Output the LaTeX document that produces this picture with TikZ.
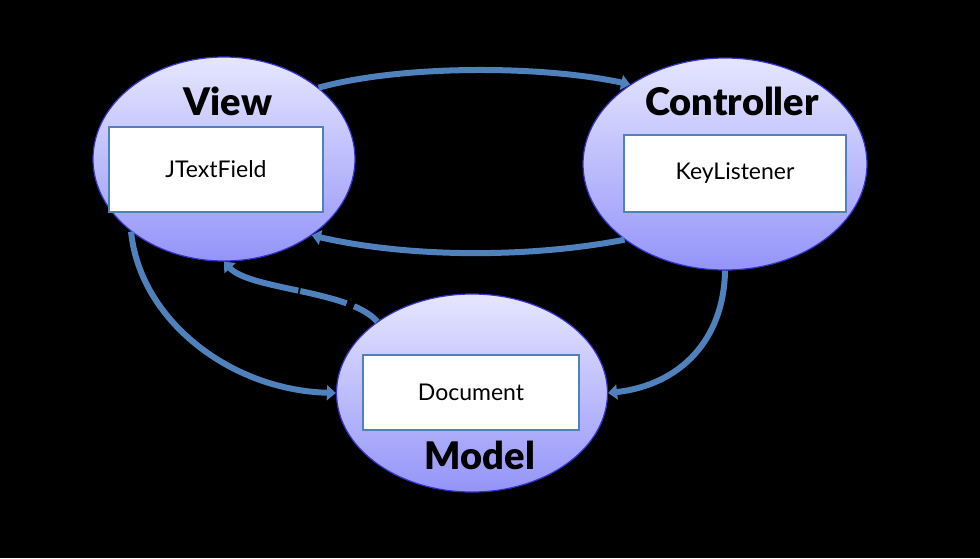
\documentclass[tikz,border=0pt]{standalone}
\usepackage{fontspec}
\setmainfont{Lato}[BoldFont={Lato Black}]
\usetikzlibrary{shapes.geometric,arrows.meta}
\definecolor{arrowblue}{RGB}{79,129,189}
\definecolor{ellline}{RGB}{50,50,205}
\definecolor{elltop}{RGB}{230,230,255}
\definecolor{ellbot}{RGB}{148,148,250}
\tikzset{
  mvc/.style={ellipse, draw=ellline, line width=1.2pt, top color=elltop, bottom color=ellbot, inner sep=0pt},
  innerbox/.style={rectangle, draw=arrowblue, line width=2.2pt, fill=white, inner sep=0pt, font=\fontsize{23}{27}\selectfont},
  title/.style={font=\fontsize{38}{44}\selectfont\bfseries, inner sep=0pt},
  flow/.style={draw=arrowblue, line width=6pt, -{Triangle[width=15pt,length=9pt]}}
}
\begin{document}
\begin{tikzpicture}[x=1pt,y=-1pt]
\fill[black] (0,0) rectangle (980,558);
\useasboundingbox (0,0) rectangle (980,558);
\node[mvc, minimum width=262pt, minimum height=204pt] (view) at (224,159) {};
\node[mvc, minimum width=284pt, minimum height=212pt] (ctrl) at (725,164) {};
\node[mvc, minimum width=271pt, minimum height=198pt] (model) at (472,393) {};
\node[innerbox, minimum width=214pt, minimum height=85pt] (jtf) at (216,169.5) {JTextField};
\node[innerbox, minimum width=222pt, minimum height=77pt] (kl) at (735,173.5) {KeyListener};
\node[innerbox, minimum width=216pt, minimum height=75pt] (doc) at (471,392.5) {Document};
\node[title] (vt) at (228,101) {View};
\node[title] (ct) at (732,101) {Controller};
\node[title] (mt) at (480,455) {Model};
\draw[flow] (view.37) .. controls (400,65) and (540,65) .. (ctrl.140);
\draw[flow] (ctrl.217) .. controls (530,258) and (410,258) .. (view.-41);
\draw[flow] (view.218) .. controls (140,320) and (230,390) .. (model.west);
\draw[flow] (ctrl.south) .. controls (724,340) and (680,385) .. (model.east);
\draw[flow, dash pattern=on 28pt off 8pt on 48pt off 2pt on 300pt off 1pt] (model.143) .. controls (350,290) and (250,290) .. (view.south);
\end{tikzpicture}
\end{document}
